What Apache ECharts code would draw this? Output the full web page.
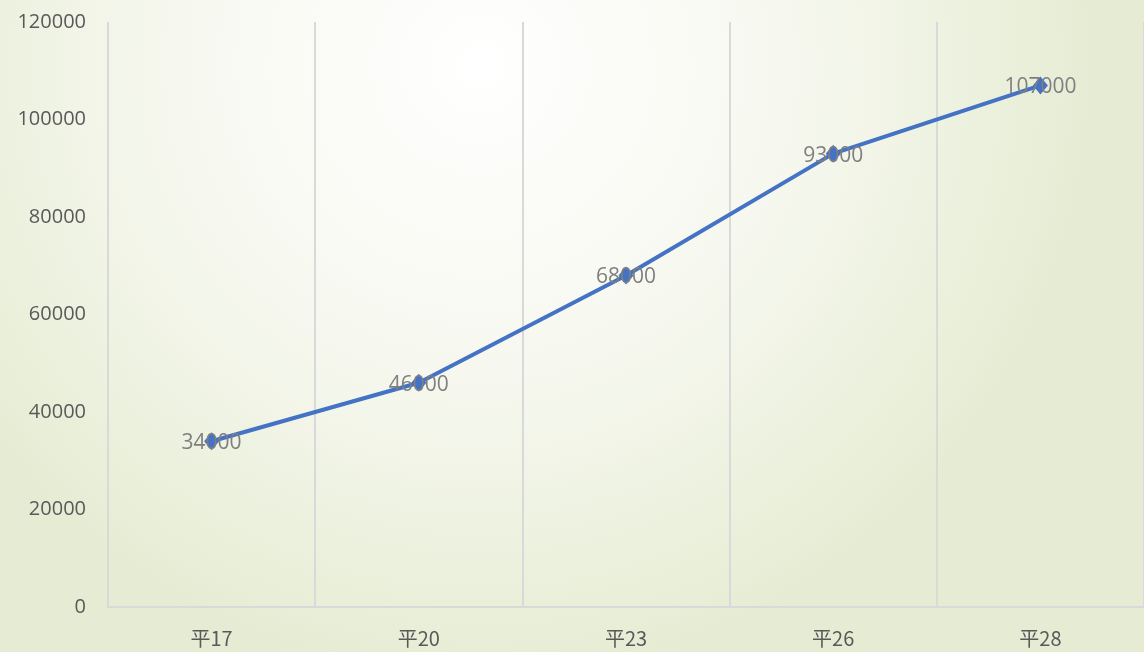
<!DOCTYPE html>
<html>
<head>
<meta charset="utf-8">
<script src="https://cdn.jsdelivr.net/npm/echarts@6/dist/echarts.min.js"></script>
<style>
  html, body { margin: 0; padding: 0; }
  #chart { width: 1144px; height: 652px; }
</style>
</head>
<body>
<div id="chart"></div>
<script>
const categories = ['平17', '平20', '平23', '平26', '平28'];
const values = [34000, 46000, 68000, 93000, 107000];
const yMin = 0;
const yMax = 120000;
const yStep = 20000;

const chart = echarts.init(document.getElementById('chart'), null, { renderer: 'canvas' });
chart.setOption({
  animation: false,
  backgroundColor: {
    type: 'radial', x: 0.42, y: 0.1, r: 0.95,
    colorStops: [
      { offset: 0, color: '#ffffff' },
      { offset: 0.5, color: '#f6f8ef' },
      { offset: 1, color: '#e6ecd3' }
    ]
  },
  grid: { left: 108, right: -2, top: 22, bottom: 45 },
  xAxis: {
    type: 'category',
    data: categories,
    boundaryGap: true,
    axisLine: { lineStyle: { color: '#d9d9d9', width: 2 } },
    axisTick: { show: false },
    axisLabel: { color: '#595959', fontSize: 20, margin: 21, fontFamily: '"Noto Sans CJK JP", "Noto Sans", sans-serif' },
    splitLine: { show: true, lineStyle: { color: '#d9d9d9', width: 2 } }
  },
  yAxis: {
    type: 'value',
    min: yMin, max: yMax, interval: yStep,
    axisLine: { show: false },
    axisTick: { show: false },
    splitLine: { show: false },
    axisLabel: { color: '#595959', fontSize: 20, margin: 22, formatter: (v) => String(v), fontFamily: '"Open Sans", sans-serif' }
  },
  series: [{
    type: 'line',
    data: values,
    symbol: 'diamond',
    symbolSize: [15, 18],
    lineStyle: { color: '#4472c4', width: 4 },
    itemStyle: { color: '#4472c4' },
    label: {
      show: true,
      position: 'inside',
      offset: [0, 2],
      color: '#7f7f7f',
      fontSize: 21,
      fontFamily: '"Open Sans", sans-serif'
    }
  }]
});
</script>
</body>
</html>
